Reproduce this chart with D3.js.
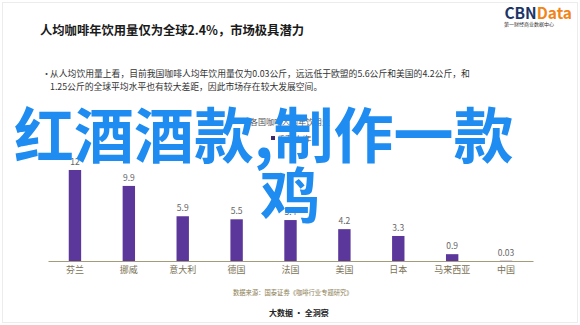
<!DOCTYPE html>
<html>
<head>
<meta charset="utf-8">
<script src="https://cdn.jsdelivr.net/npm/d3@7"></script>
<style>
  body { margin: 0; background: #fff; }
  text { font-family: "Noto Sans CJK SC", "Noto Sans", sans-serif; }
</style>
</head>
<body>
<svg id="chart" width="580" height="325"></svg>
<script>
// data
let countries = ["芬兰", "挪威", "意大利", "德国", "法国", "美国", "日本", "马来西亚", "中国"];
let values = [12, 9.9, 5.9, 5.5, 5.4, 4.2, 3.3, 0.9, 0.03];
let valueLabels = ["12", "9.9", "5.9", "5.5", "5.4", "4.2", "3.3", "0.9", "0.03"];
let bulletLines = [
    "从人均饮用量上看，目前我国咖啡人均年饮用量仅为0.03公斤，远远低于欧盟的5.6公斤和美国的4.2公斤，和",
    "1.25公斤的全球平均水平也有较大差距，因此市场存在较大发展空间。"
];
let overlayLines = ["红酒酒款,制作一款", "鸡"];

let svg = d3.select("#chart");
let margin = {left: 48, right: 47, base: 261};

// frame
svg.append("rect")
    .attr("x", 2.5).attr("y", 2.5).attr("width", 575).attr("height", 320)
    .attr("fill", "none").attr("stroke", "#ececec");

// title
svg.append("text")
    .attr("x", 40).attr("y", 35)
    .attr("font-size", 12.3).attr("font-weight", "bold").attr("fill", "#1a1a1a")
    .text("人均咖啡年饮用量仅为全球2.4%，市场极具潜力");

// logo
let logo = svg.append("text").attr("x", 572).attr("y", 19)
    .attr("text-anchor", "end").attr("font-size", 15.5).attr("font-weight", "bold")
    .attr("font-family", "Liberation Sans, Arial, sans-serif");
logo.append("tspan").attr("fill", "#1d3566").text("CBN");
logo.append("tspan").attr("fill", "#f08519").text("Data");
svg.append("text").attr("x", 504).attr("y", 26)
    .attr("font-size", 5).attr("fill", "#333").text("第一财经商业数据中心");

// bullet
svg.append("text").attr("x", 42).attr("y", 77).attr("font-size", 9).attr("fill", "#444").text("•");
svg.append("g").selectAll("text")
    .data(bulletLines).enter().append("text")
    .attr("x", 50).attr("y", (d, i) => 77 + i * 13)
    .attr("font-size", 8.8).attr("fill", "#333")
    .text(d => d);

// scales
let x = d3.scaleBand().domain(countries).range([margin.left, 580 - margin.right])
    .paddingInner(0.77).paddingOuter(0.385);
let y = d3.scaleLinear().domain([0, 12]).range([margin.base, 170]);

// legend
svg.append("text").attr("x", 250).attr("y", 125).attr("font-size", 8).attr("fill", "#555")
    .text("各国咖啡人均年饮用量");
svg.append("rect").attr("x", 271).attr("y", 136).attr("width", 4).attr("height", 4).attr("fill", "#3d2a6e");
svg.append("text").attr("x", 278).attr("y", 141).attr("font-size", 7).attr("fill", "#555").text("千克/人/年");

// bars
let g = svg.append("g");
g.selectAll("rect")
    .data(values).enter().append("rect")
    .attr("x", (d, i) => x(countries[i]))
    .attr("y", d => y(d))
    .attr("width", x.bandwidth())
    .attr("height", d => y(0) - y(d))
    .attr("fill", "#5b379c");
g.selectAll("text.val")
    .data(values).enter().append("text")
    .attr("class", "val")
    .attr("x", (d, i) => x(countries[i]) + x.bandwidth() / 2)
    .attr("y", d => y(d) - 5)
    .attr("text-anchor", "middle").attr("font-size", 8.5).attr("fill", "#666")
    .text((d, i) => valueLabels[i]);

// axis
let axis = svg.append("g")
    .attr("transform", `translate(0, ${margin.base})`)
    .call(d3.axisBottom(x).tickSize(0).tickPadding(6));
axis.select(".domain").attr("stroke", "#a39c78");
axis.selectAll("text").attr("font-size", 9).attr("fill", "#7a7256")
    .attr("font-family", "Noto Sans CJK SC, sans-serif");

// source
svg.append("text").attr("x", 233).attr("y", 295).attr("font-size", 6.3).attr("fill", "#8c7e55")
    .text("数据来源：国泰证券《咖啡行业专题研究》");
svg.append("text").attr("x", 269).attr("y", 316).attr("font-size", 8).attr("font-weight", "bold").attr("fill", "#222")
    .text("大数据 · 全洞察");

// big overlay text
svg.append("text").attr("x", 14).attr("y", 158)
    .attr("font-size", 60).attr("font-weight", "bold").attr("fill", "#1e8cf0")
    .text(overlayLines[0]);
svg.append("text").attr("x", 260).attr("y", 218)
    .attr("font-size", 60).attr("font-weight", "bold").attr("fill", "#1e8cf0")
    .text(overlayLines[1]);
</script>
</body>
</html>
